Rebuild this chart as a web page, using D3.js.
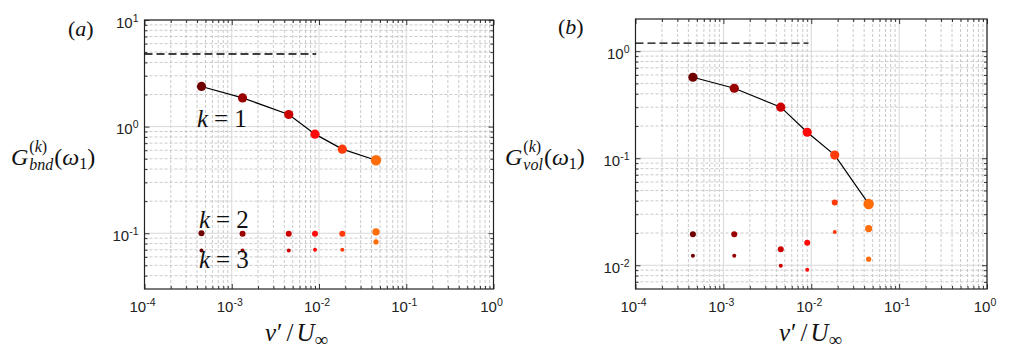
<!DOCTYPE html>
<html>
<head>
<meta charset="utf-8">
<script src="https://cdn.jsdelivr.net/npm/d3@7"></script>
<style>
  body { margin: 0; background: #fff; }
  svg { display: block; }
</style>
</head>
<body>
<div id="chart"></div>
<script>
// values
const vRatio = [4.5e-4, 1.33e-3, 4.5e-3, 9.0e-3, 1.85e-2, 4.5e-2];
const bndK1 = [2.38, 1.86, 1.30, 0.85, 0.615, 0.484];
const bndK2 = [0.1, 0.099, 0.099, 0.099, 0.099, 0.103];
const bndK3 = [0.069, 0.069, 0.069, 0.070, 0.070, 0.083];
const volK1 = [0.571, 0.451, 0.300, 0.175, 0.107, 0.0374];
const volK2 = [0.0195, 0.0195, 0.0141, 0.0162, 0.0385, 0.0220];
const volK3 = [0.0123, 0.0123, 0.0099, 0.0091, 0.0205, 0.0114];
const bndRef = 4.8, volRef = 1.19, refEnd = 9.3e-3;
const pointColors = ["#6e0000", "#990000", "#cc0000", "#ff0a0a", "#ff3a0a", "#ff6c0a"];
const xTicks = [1e-4, 1e-3, 1e-2, 1e-1, 1];

const width = 1010, height = 355;
const svg = d3.select("#chart").append("svg")
  .attr("width", width).attr("height", height);

const serif = "'Liberation Serif', 'DejaVu Serif', serif";
const sans = "'Liberation Sans', Arial, sans-serif";

function minorsOf(domain) {
  const out = [];
  const lo = Math.floor(Math.log10(domain[0])), hi = Math.ceil(Math.log10(domain[1]));
  for (let d = lo; d <= hi; d++)
    for (let m = 2; m <= 9; m++) {
      const v = m * Math.pow(10, d);
      if (v > domain[0] * 1.0001 && v < domain[1] * 0.9999) out.push(v);
    }
  return out;
}
function majorsOf(domain) {
  const out = [];
  const lo = Math.ceil(Math.log10(domain[0]) - 1e-9), hi = Math.floor(Math.log10(domain[1]) + 1e-9);
  for (let d = lo; d <= hi; d++) out.push(Math.pow(10, d));
  return out;
}

function tickLabel(g, x, y, exp, anchor) {
  const t = g.append("text").attr("x", x).attr("y", y)
    .attr("font-family", sans).attr("font-size", 15)
    .attr("text-anchor", anchor).attr("fill", "#222");
  t.append("tspan").text("10");
  t.append("tspan").attr("font-size", 10.5).attr("dy", -6).text(exp);
}

function drawPanel(p) {
  const x = d3.scaleLog().domain([1e-4, 1]).range([p.left, p.right]);
  const y = d3.scaleLog().domain(p.yDomain).range([p.bottom, p.top]);
  const g = svg.append("g");

  const xMin = minorsOf(x.domain()), yMin = minorsOf(p.yDomain);
  const xMaj = majorsOf(x.domain()), yMaj = majorsOf(p.yDomain);

  // grid
  g.append("g").selectAll("line").data(xMin).join("line")
    .attr("x1", d => x(d)).attr("x2", d => x(d)).attr("y1", p.top).attr("y2", p.bottom)
    .attr("stroke", "#bcbcbc").attr("stroke-width", 0.8).attr("stroke-dasharray", "3,2");
  g.append("g").selectAll("line").data(yMin).join("line")
    .attr("y1", d => y(d)).attr("y2", d => y(d)).attr("x1", p.left).attr("x2", p.right)
    .attr("stroke", "#bcbcbc").attr("stroke-width", 0.8).attr("stroke-dasharray", "3,2");
  g.append("g").selectAll("line").data(xMaj).join("line")
    .attr("x1", d => x(d)).attr("x2", d => x(d)).attr("y1", p.top).attr("y2", p.bottom)
    .attr("stroke", "#d8d8d8").attr("stroke-width", 1);
  g.append("g").selectAll("line").data(yMaj).join("line")
    .attr("y1", d => y(d)).attr("y2", d => y(d)).attr("x1", p.left).attr("x2", p.right)
    .attr("stroke", "#d8d8d8").attr("stroke-width", 1);

  // inward ticks on all four sides
  const axes = [
    [d3.axisBottom(x), `translate(0,${p.bottom})`, xMaj, xMin],
    [d3.axisTop(x), `translate(0,${p.top})`, xMaj, xMin],
    [d3.axisLeft(y), `translate(${p.left},0)`, yMaj, yMin],
    [d3.axisRight(y), `translate(${p.right},0)`, yMaj, yMin]
  ];
  axes.forEach(([ax, tr, maj, min]) => {
    [[maj, -5], [min, -3]].forEach(([vals, size]) => {
      const a = g.append("g").attr("transform", tr)
        .call(ax.tickValues(vals).tickSize(size).tickFormat(""));
      a.select(".domain").remove();
      a.selectAll("line").attr("stroke", "#222").attr("stroke-width", 0.9);
    });
  });

  g.append("rect").attr("x", p.left).attr("y", p.top)
    .attr("width", p.right - p.left).attr("height", p.bottom - p.top)
    .attr("fill", "none").attr("stroke", "#222").attr("stroke-width", 1.2);

  // tick labels
  xTicks.forEach(v => tickLabel(g, x(v) - 2, p.bottom + 23, String(Math.round(Math.log10(v))), "middle"));
  yMaj.forEach(v => tickLabel(g, p.left - 6, y(v) + 7.5, String(Math.round(Math.log10(v))), "end"));

  // reference dashed line
  g.append("line")
    .attr("x1", x(1e-4)).attr("x2", x(refEnd))
    .attr("y1", y(p.ref)).attr("y2", y(p.ref))
    .attr("stroke", "#000").attr("stroke-width", 1.3).attr("stroke-dasharray", "8,4");

  // k = 1 line
  const line = d3.line().x((d, i) => x(vRatio[i])).y(d => y(d));
  g.append("path").datum(p.k1).attr("d", line)
    .attr("fill", "none").attr("stroke", "#000").attr("stroke-width", 1.2);

  [[p.k3, 2.0], [p.k2, 3.0], [p.k1, 4.6]].forEach(([vals, r]) => {
    g.append("g").selectAll("circle").data(vals).join("circle")
      .attr("cx", (d, i) => x(vRatio[i])).attr("cy", d => y(d))
      .attr("r", (d, i) => i === vals.length - 1 ? r + 0.6 : r)
      .attr("fill", (d, i) => pointColors[i]);
  });

  // panel letter
  const lt = g.append("text").attr("x", p.letterX).attr("y", p.letterY)
    .attr("font-family", serif).attr("font-size", 22).attr("fill", "#111");
  lt.append("tspan").text("(");
  lt.append("tspan").attr("font-style", "italic").text(p.letter);
  lt.append("tspan").text(")");

  // y label G^{(k)}_{sub}(ω1)
  const yl = g.append("g").attr("font-family", serif).attr("fill", "#111");
  const G = yl.append("text").attr("x", p.gx).attr("y", 165)
    .attr("font-size", 24).attr("font-style", "italic").text("G");
  const gw = G.node().getComputedTextLength();
  const sx = p.gx + gw + 1;
  const sup = yl.append("text").attr("x", sx).attr("y", 152).attr("font-size", 16);
  sup.append("tspan").text("(");
  sup.append("tspan").attr("font-style", "italic").text("k");
  sup.append("tspan").text(")");
  const sub = yl.append("text").attr("x", sx).attr("y", 170).attr("font-size", 16)
    .attr("font-style", "italic").text(p.sub);
  const sw = Math.max(sup.node().getComputedTextLength(), sub.node().getComputedTextLength());
  const rest = yl.append("text").attr("x", sx + sw + 1).attr("y", 165).attr("font-size", 24);
  rest.append("tspan").text("(");
  rest.append("tspan").attr("font-style", "italic").text("ω");
  rest.append("tspan").attr("font-size", 16).attr("dy", 4).text("1");
  rest.append("tspan").attr("dy", -4).text(")");

  // x label v'/U∞
  const xl = g.append("text").attr("x", p.xlX).attr("y", 341)
    .attr("font-family", serif).attr("font-size", 25).attr("fill", "#111");
  xl.append("tspan").attr("font-style", "italic").text("v");
  xl.append("tspan").attr("dx", 1).text("′");
  xl.append("tspan").attr("dx", 4).text("/");
  xl.append("tspan").attr("dx", 3).attr("font-style", "italic").text("U");
  xl.append("tspan").attr("font-size", 19).attr("dy", 5).text("∞");

  return g;
}

const ga = drawPanel({
  left: 144.5, right: 493.5, top: 20, bottom: 289, yDomain: [0.03, 10],
  k1: bndK1, k2: bndK2, k3: bndK3, ref: bndRef,
  letter: "a", letterX: 68, letterY: 36, gx: 11, sub: "bnd", xlX: 265
});
drawPanel({
  left: 635.5, right: 987, top: 19, bottom: 289, yDomain: [0.006, 2],
  k1: volK1, k2: volK2, k3: volK3, ref: volRef,
  letter: "b", letterX: 558, letterY: 34, gx: 505, sub: "vol", xlX: 779
});

// k labels in panel (a)
[["1", 197, 127], ["2", 199, 228], ["3", 199, 268]].forEach(([k, lx, ly]) => {
  const t = ga.append("text").attr("x", lx).attr("y", ly)
    .attr("font-family", serif).attr("font-size", 25).attr("fill", "#111");
  t.append("tspan").attr("font-style", "italic").text("k");
  t.append("tspan").attr("dx", 6).text("=");
  t.append("tspan").attr("dx", 6).text(k);
});
</script>
</body>
</html>
